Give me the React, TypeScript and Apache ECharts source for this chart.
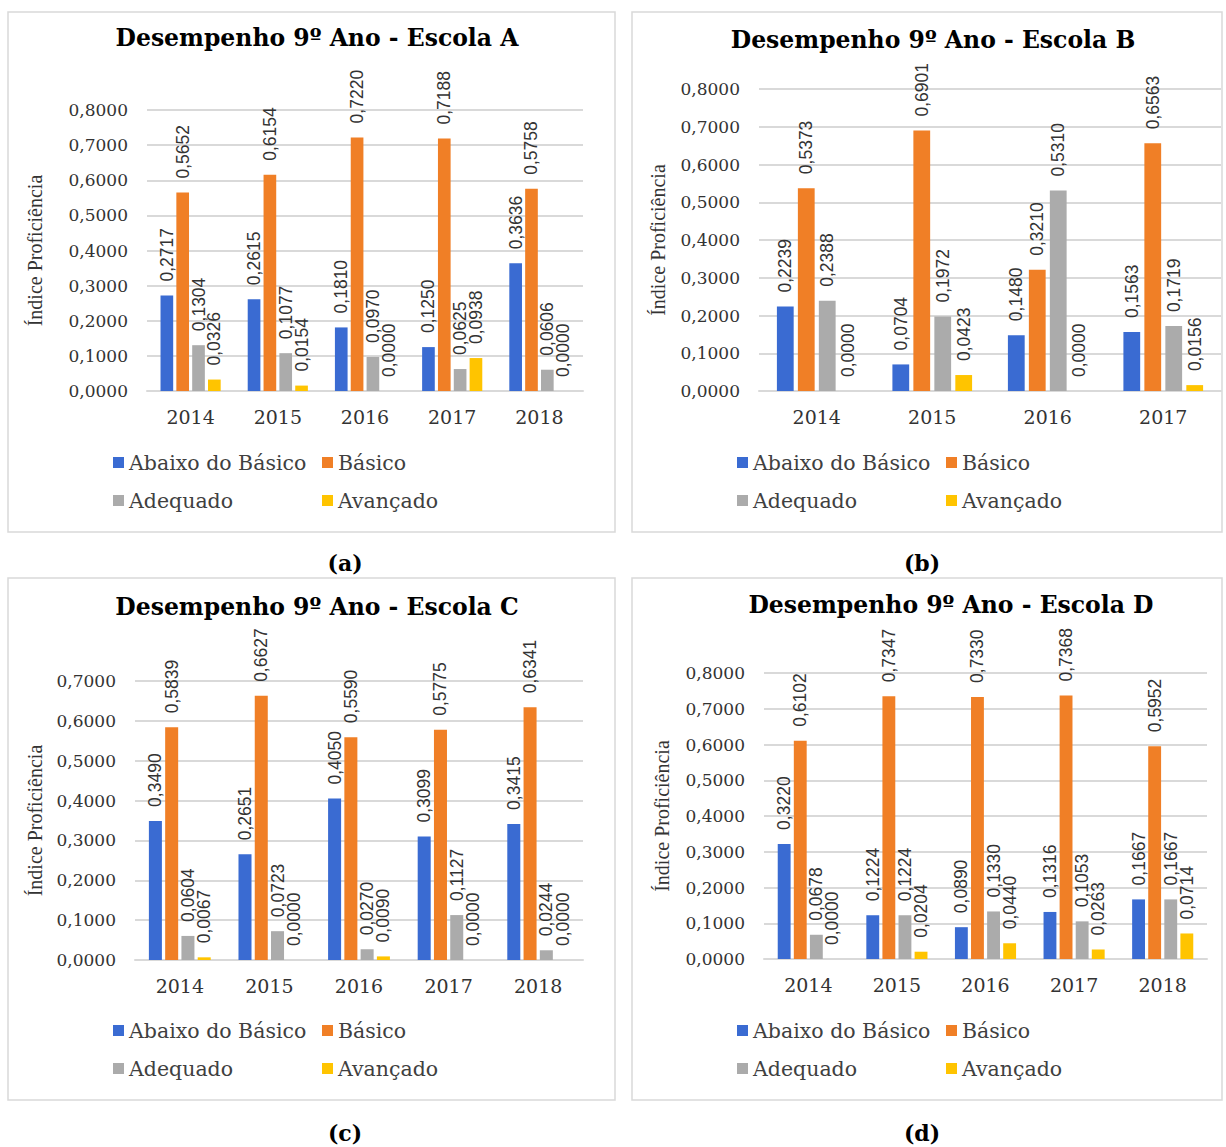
import React, { useEffect, useRef } from 'react';
import * as echarts from 'echarts';

// Categories
const YEARS_5 = ['2014', '2015', '2016', '2017', '2018'];
const YEARS_4 = ['2014', '2015', '2016', '2017'];
const LEVELS = ['Abaixo do Básico', 'Básico', 'Adequado', 'Avançado'];
const LEVEL_COLORS = ['#3A6BD2', '#F07F26', '#ABABAB', '#FFC400'];

// Escola A
const A_ABAIXO = [0.2717, 0.2615, 0.181, 0.125, 0.3636];
const A_BASICO = [0.5652, 0.6154, 0.722, 0.7188, 0.5758];
const A_ADEQUADO = [0.1304, 0.1077, 0.097, 0.0625, 0.0606];
const A_AVANCADO = [0.0326, 0.0154, 0.0, 0.0938, 0.0];

// Escola B
const B_ABAIXO = [0.2239, 0.0704, 0.148, 0.1563];
const B_BASICO = [0.5373, 0.6901, 0.321, 0.6563];
const B_ADEQUADO = [0.2388, 0.1972, 0.531, 0.1719];
const B_AVANCADO = [0.0, 0.0423, 0.0, 0.0156];

// Escola C
const C_ABAIXO = [0.349, 0.2651, 0.405, 0.3099, 0.3415];
const C_BASICO = [0.5839, 0.6627, 0.559, 0.5775, 0.6341];
const C_ADEQUADO = [0.0604, 0.0723, 0.027, 0.1127, 0.0244];
const C_AVANCADO = [0.0067, 0.0, 0.009, 0.0, 0.0];

// Escola D
const D_ABAIXO = [0.322, 0.1224, 0.089, 0.1316, 0.1667];
const D_BASICO = [0.6102, 0.7347, 0.733, 0.7368, 0.5952];
const D_ADEQUADO = [0.0678, 0.1224, 0.133, 0.1053, 0.1667];
const D_AVANCADO = [0.0, 0.0204, 0.044, 0.0263, 0.0714];

// Axis ranges and labels
const Y_MAX = [0.8, 0.8, 0.7, 0.8];
const Y_STEP = 0.1;
const Y_NAME = 'Índice Proficiência';
const TITLES = [
  'Desempenho 9º Ano - Escola A',
  'Desempenho 9º Ano - Escola B',
  'Desempenho 9º Ano - Escola C',
  'Desempenho 9º Ano - Escola D',
];
const CAPTIONS = ['(a)', '(b)', '(c)', '(d)'];

const PANEL_DATA = [
  { years: YEARS_5, series: [A_ABAIXO, A_BASICO, A_ADEQUADO, A_AVANCADO] },
  { years: YEARS_4, series: [B_ABAIXO, B_BASICO, B_ADEQUADO, B_AVANCADO] },
  { years: YEARS_5, series: [C_ABAIXO, C_BASICO, C_ADEQUADO, C_AVANCADO] },
  { years: YEARS_5, series: [D_ABAIXO, D_BASICO, D_ADEQUADO, D_AVANCADO] },
];

// Page layout of the four panels
const LAYOUT = [
  { box: [8, 12, 607, 520], titleX: 317, titleY: 38, grid: [147, 110, 436, 281], nameGap: 102, legendTop: 452, leg1: 113, leg2: 322, capX: 345, capY: 563 },
  { box: [632, 12, 590, 520], titleX: 933, titleY: 40, grid: [759, 89, 462, 302], nameGap: 91, legendTop: 452, leg1: 737, leg2: 946, capX: 922, capY: 563 },
  { box: [8, 578, 607, 522], titleX: 317, titleY: 607, grid: [135, 681, 448, 279], nameGap: 90, legendTop: 1020, leg1: 113, leg2: 322, capX: 345, capY: 1133 },
  { box: [632, 578, 590, 522], titleX: 951, titleY: 605, grid: [764, 673, 443, 286], nameGap: 92, legendTop: 1020, leg1: 737, leg2: 946, capX: 922, capY: 1133 },
];

const SERIF = "'DejaVu Serif', 'Liberation Serif', serif";
const fmt = (v: number) => v.toFixed(4).replace('.', ',');

function buildOption() {
  const grid: any[] = [];
  const xAxis: any[] = [];
  const yAxis: any[] = [];
  const series: any[] = [];
  const legend: any[] = [];
  const graphic: any[] = [];

  LAYOUT.forEach((L, i) => {
    const P = PANEL_DATA[i];
    graphic.push({
      type: 'rect',
      shape: { x: L.box[0], y: L.box[1], width: L.box[2], height: L.box[3] },
      style: { fill: 'none', stroke: '#D9D9D9', lineWidth: 1.5 },
      silent: true,
    });
    graphic.push({
      type: 'text',
      x: L.capX,
      y: L.capY,
      style: {
        text: CAPTIONS[i],
        fontFamily: SERIF,
        fontWeight: 'bold',
        fontSize: 22,
        fill: '#000',
        align: 'center',
        verticalAlign: 'middle',
      },
    });
    graphic.push({
      type: 'text',
      x: L.titleX,
      y: L.titleY,
      style: {
        text: TITLES[i],
        fontFamily: SERIF,
        fontWeight: 'bold',
        fontSize: 23.5,
        fill: '#000',
        align: 'center',
        verticalAlign: 'middle',
      },
    });

    grid.push({ left: L.grid[0], top: L.grid[1], width: L.grid[2], height: L.grid[3], containLabel: false });

    xAxis.push({
      type: 'category',
      gridIndex: i,
      data: P.years,
      axisTick: { show: false },
      axisLine: { show: true, lineStyle: { color: '#D9D9D9', width: 2 } },
      axisLabel: { fontFamily: SERIF, fontSize: 19, color: '#333', margin: 16 },
    });
    yAxis.push({
      type: 'value',
      gridIndex: i,
      min: 0,
      max: Y_MAX[i],
      interval: Y_STEP,
      name: Y_NAME,
      nameLocation: 'middle',
      nameGap: L.nameGap,
      nameRotate: 90,
      nameTextStyle: { fontFamily: "'Liberation Serif', serif", fontSize: 20, color: '#333' },
      axisLine: { show: false },
      axisTick: { show: false },
      axisLabel: { formatter: fmt, fontFamily: SERIF, fontSize: 17, color: '#333', margin: 19 },
      splitLine: { lineStyle: { color: '#D9D9D9', width: 2 } },
    });

    LEVELS.forEach((name, k) => {
      series.push({
        type: 'bar',
        name,
        xAxisIndex: i,
        yAxisIndex: i,
        data: P.series[k],
        barCategoryGap: '31%',
        barGap: '25%',
        itemStyle: { color: LEVEL_COLORS[k] },
        label: {
          show: true,
          position: 'top',
          distance: 14,
          rotate: 90,
          align: 'left',
          verticalAlign: 'middle',
          formatter: (p: any) => fmt(p.value),
          fontFamily: "'Liberation Sans', Arial, sans-serif",
          fontSize: 17.5,
          color: '#333',
        },
      });
    });

    const legendCommon = {
      orient: 'vertical',
      top: L.legendTop,
      itemWidth: 11,
      itemHeight: 11,
      itemGap: 17,
      icon: 'rect',
      selectedMode: false,
      padding: 0,
      textStyle: { fontFamily: SERIF, fontSize: 20.5, color: '#404040', lineHeight: 21 },
    };
    legend.push({ ...legendCommon, left: L.leg1, data: [LEVELS[0], LEVELS[2]] });
    legend.push({ ...legendCommon, left: L.leg2, data: [LEVELS[1], LEVELS[3]] });
  });

  return {
    animation: false,
    backgroundColor: '#fff',
    grid,
    xAxis,
    yAxis,
    series,
    legend,
    graphic,
  };
}

export default function App() {
  const ref = useRef<HTMLDivElement>(null);
  useEffect(() => {
    if (!ref.current) return;
    const chart = echarts.init(ref.current, undefined, { renderer: 'svg' });
    chart.setOption(buildOption() as any);
    return () => chart.dispose();
  }, []);
  return (
    <div
      ref={ref}
      style={{ position: 'absolute', left: 0, top: 0, width: 1226, height: 1147, background: '#fff' }}
    />
  );
}
